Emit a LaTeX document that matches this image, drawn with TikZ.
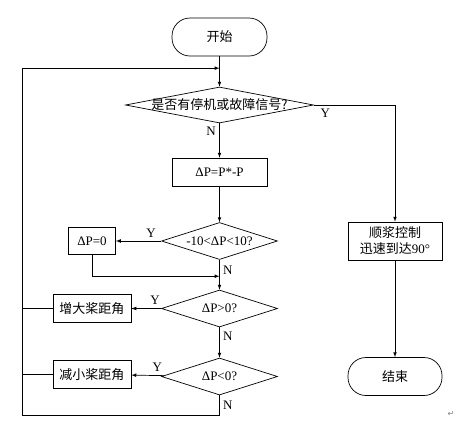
\documentclass[tikz,border=0pt]{standalone}
\usepackage{fontspec}
\setmainfont{Liberation Serif}
\newfontfamily\cjk{Noto Sans CJK SC}
\newfontfamily\symfont{DejaVu Sans}
\usetikzlibrary{shapes.geometric,calc}

\begin{document}
\begin{tikzpicture}[x=1pt, y=-1pt, >=latex, line width=0.7pt,
  font=\fontsize{13}{15}\selectfont,
  term/.style={draw, rectangle, rounded corners=18pt, minimum width=95pt, minimum height=38pt, font=\fontsize{13}{15}\selectfont\cjk},
  proc/.style={draw, rectangle, minimum height=28pt},
  test/.style={draw, diamond, inner sep=0pt, minimum width=116pt, minimum height=37pt}]
\useasboundingbox (0,0) rectangle (472,429);

\node [term] (start) at (219.5,37) {开始};
\node [test, minimum width=188pt, minimum height=36pt, font=\fontsize{13}{15}\selectfont\cjk, below of=start, node distance=68pt] (d1) {\makebox[0pt]{是否有停机或故障信号?}};
\node [proc, minimum width=95pt, below of=d1, node distance=67pt] (calc) {ΔP=P*-P};
\node [test, below of=calc, node distance=69pt] (d2) {\makebox[0pt]{-10<ΔP<10?}};
\node [test, below of=d2, node distance=67.5pt] (d3) {\makebox[0pt]{ΔP>0?}};
\node [test, below of=d3, node distance=68pt] (d4) {\makebox[0pt]{ΔP<0?}};

\node [proc, minimum width=47pt, minimum height=27pt, left of=d2, node distance=127.5pt] (p0) {ΔP=0};
\node [proc, minimum width=78pt, font=\fontsize{13}{15}\selectfont\cjk, left of=d3, node distance=127.5pt] (inc) {增大桨距角};
\node [proc, minimum width=78pt, font=\fontsize{13}{15}\selectfont\cjk, left of=d4, node distance=127.5pt, yshift=2pt] (dec) {减小桨距角};

\node [draw, rectangle, minimum width=94pt, minimum height=38pt, inner sep=2pt, align=center, font=\fontsize{13}{16}\selectfont\cjk, right of=d2, node distance=175.5pt] (feather) {顺浆控制\\迅速到达{\rmfamily 90°}};
\node [term, minimum width=94pt, right of=d4, node distance=175.5pt] (end) {结束};

\node [text=gray, font=\fontsize{8}{8}\selectfont\symfont] (ret) at (451,414) {↵};

% joints of the loop
\coordinate (m1) at ($(start.south)!0.39!(d1.north)$);
\coordinate (m2) at ($(d2.south)!0.55!(d3.north)$);
\coordinate (corner) at (22,415);

\draw [->] (start) -- (d1);
\draw [->] (d1) -- node [left, pos=0.22] {N} (calc);
\draw [->] (calc) -- (d2);
\draw [->] (d2) -- node [above, pos=0.22] {Y} (p0);
\draw [->] (p0) |- (m2);
\draw [->] (d2) -- node [right, pos=0.35] {N} (d3);
\draw [->] (d3) -- node [above, pos=0.2] {Y} (inc);
\draw [->] (d3) -- node [right, pos=0.3] {N} (d4);
\draw [->] (d4) -- node [above, pos=0.2] {Y} (dec);

\draw [->] (d4) -- node [right] {N} (d4.south |- corner) -- (corner) |- (m1);
\draw (inc) -- (inc -| corner);
\draw (dec) -- (dec -| corner);

\draw [->] (d1.east) -| node [below, pos=0.07] {Y} (feather);
\draw [->] (feather) -- (end);
\end{tikzpicture}
\end{document}
